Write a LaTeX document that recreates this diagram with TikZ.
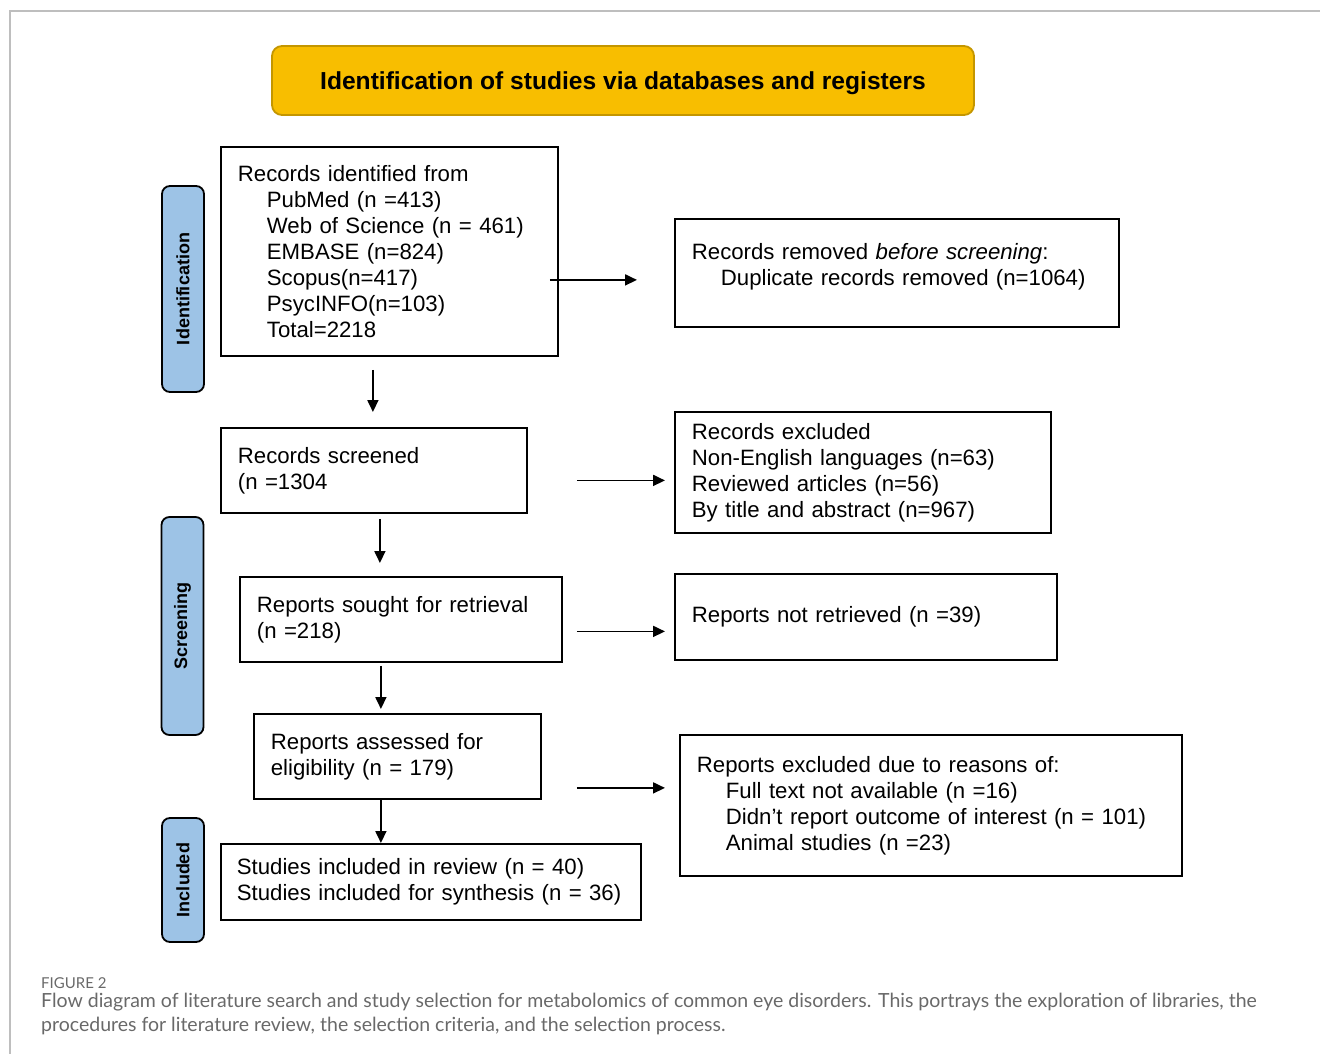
\documentclass[tikz,border=0pt]{standalone}
\usepackage{fontspec}
\setmainfont{Liberation Sans}
\newfontfamily\capfont{Lato}
\usetikzlibrary{arrows.meta}
\definecolor{titlegold}{RGB}{248,190,0}
\definecolor{titleedge}{RGB}{196,150,0}
\definecolor{sideblue}{RGB}{157,195,230}
\definecolor{framegray}{RGB}{190,190,190}
\definecolor{capgray}{RGB}{105,105,105}

\begin{document}
\begin{tikzpicture}[
  x=1pt, y=-1pt,
  box/.style={draw, line width=1.8pt, anchor=north west, align=left, inner xsep=17pt, inner ysep=0pt, font=\fontsize{22.2}{26}\selectfont},
  side/.style={draw, fill=sideblue, line width=1.8pt, rounded corners=8pt, rotate=90, minimum height=42pt, inner sep=0pt, font=\fontsize{18}{20}\selectfont\bfseries},
  arr/.style={draw, ->, >={Triangle[length=12pt,width=11pt]}, line width=1.8pt}
]
\useasboundingbox (0,0) rectangle (1320,1054);
\draw[framegray, line width=1.5pt] (1320,11) -- (10,11) -- (10,1054);

\node[draw=titleedge, fill=titlegold, line width=1.8pt, rounded corners=10pt, minimum width=702pt, minimum height=69pt, text depth=0pt, font=\fontsize{24.6}{28}\selectfont\bfseries] (title) at (623,80.5) {Identification of studies via databases and registers};

\node[side, minimum width=206pt] (sideid) at (183,289) {Identification};
\node[side, minimum width=218pt] (sidescr) at (182.5,626) {Screening};
\node[side, minimum width=124pt] (sideinc) at (183,880) {Included};

\node[box, minimum width=337pt, minimum height=209pt, text width=303pt] (id) at (220,146) {Records identified from\\
  \hspace*{29pt}PubMed (n =413)\\
  \hspace*{29pt}Web of Science (n = 461)\\
  \hspace*{29pt}EMBASE (n=824)\\
  \hspace*{29pt}Scopus(n=417)\\
  \hspace*{29pt}PsycINFO(n=103)\\
  \hspace*{29pt}Total=2218};
\node[box, minimum width=444pt, minimum height=108pt, text width=410pt] (rem) at (674,218) {Records removed \textit{before screening}:\\
  \hspace*{29pt}Duplicate records removed (n=1064)\rule[-17pt]{0pt}{0pt}};
\node[box, minimum width=306pt, minimum height=85pt, text width=272pt] (scr) at (220,427) {Records screened\\(n =1304};
\node[box, minimum width=376pt, minimum height=121pt, text width=342pt] (exc) at (674,411) {Records excluded\\
  Non-English languages (n=63)\\
  Reviewed articles (n=56)\\
  By title and abstract (n=967)};
\node[box, minimum width=322pt, minimum height=85pt, text width=288pt] (sought) at (239,576) {Reports sought for retrieval\\(n =218)};
\node[box, minimum width=382pt, minimum height=86pt, text width=348pt] (notret) at (674,573) {Reports not retrieved (n =39)};
\node[box, minimum width=287pt, minimum height=85pt, text width=253pt] (assessed) at (253,713) {Reports assessed for\\eligibility (n = 179)};
\node[box, minimum width=502pt, minimum height=141pt, text width=468pt] (reasons) at (679,734) {Reports excluded due to reasons of:\\
  \hspace*{29pt}Full text not available (n =16)\\
  \hspace*{29pt}Didn’t report outcome of interest (n = 101)\\
  \hspace*{29pt}Animal studies (n =23)};
\node[box, minimum width=420pt, minimum height=76pt, inner xsep=16pt, text width=388pt] (incl) at (220,843) {Studies included in review (n = 40)\\
  Studies included for synthesis (n = 36)};

\draw[arr, shorten <=-9pt, shorten >=37pt] ([yshift=-7pt]id.east |- rem) -- ([yshift=-7pt]rem.west);
\draw[arr, shorten <=49pt, shorten >=9pt] ([yshift=-10pt]scr.east) -- ([yshift=-10pt]scr.east -| exc.west);
\draw[arr, shorten <=14pt, shorten >=9pt] ([yshift=-12pt]sought.east) -- ([yshift=-12pt]sought.east -| notret.west);
\draw[arr, shorten <=35pt, shorten >=14pt] ([yshift=-31.5pt]assessed.east) -- ([yshift=-31.5pt]assessed.east -| reasons.west);

\draw[arr, shorten <=13pt, shorten >=15pt] ([xshift=-1pt]scr.north |- id.south) -- ([xshift=-1pt]scr.north);
\draw[arr, shorten <=5pt, shorten >=13pt] ([xshift=6pt]scr.south) -- ([xshift=6pt]scr.south |- sought.north);
\draw[arr, shorten <=3pt, shorten >=4pt] ([xshift=-20pt]sought.south) -- ([xshift=-20pt]sought.south |- assessed.north);
\draw[arr] ([xshift=-16.5pt]assessed.south) -- ([xshift=-16.5pt]assessed.south |- incl.north);

\node[anchor=west, inner sep=0pt, text=capgray, font=\capfont\fontsize{15}{17}\selectfont] (fig) at (41,983) {FIGURE 2};
\node[anchor=north west, align=left, inner sep=0pt, text=capgray, font=\capfont\fontsize{19.5}{24}\selectfont] (cap) at (41,993) {Flow diagram of literature search and study selection for metabolomics of common eye disorders. This portrays the exploration of libraries, the\\
  procedures for literature review, the selection criteria, and the selection process.};
\end{tikzpicture}
\end{document}
